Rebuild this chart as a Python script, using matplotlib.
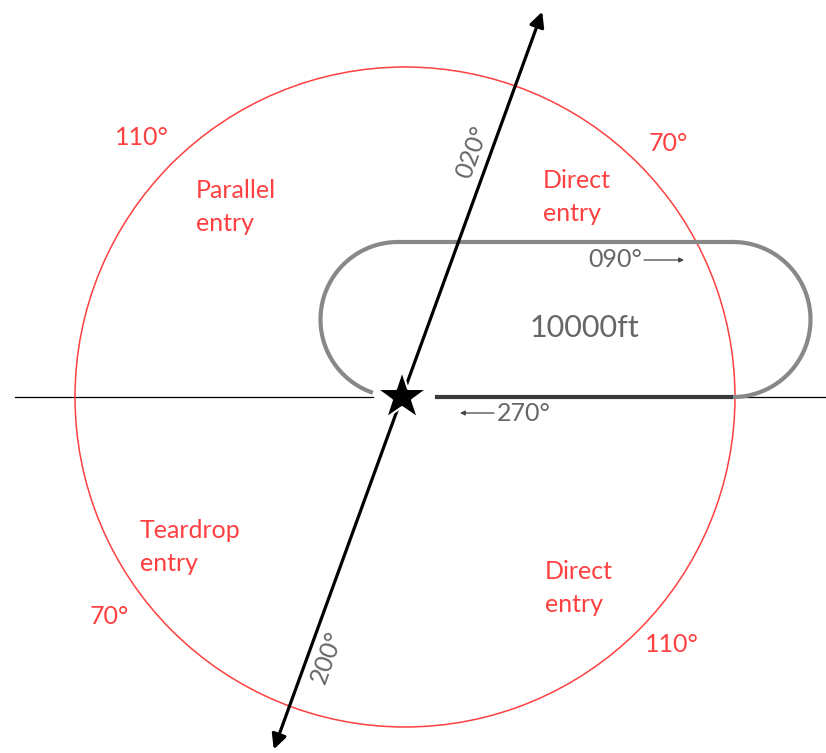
import numpy as np
import matplotlib.pyplot as plt
from matplotlib.patches import Circle

# holding pattern at a fix, inbound course 270, entry sectors split along 020/200
fix_xy = (402, 397)
circle_radius = 330
sector_bearing = 20  # 020 / 200 line
leg_top_y = 242
leg_left_x = 398
leg_right_x = 733
inbound_start_x = 435

sector_names = ["Parallel\nentry", "Direct\nentry", "Teardrop\nentry", "Direct\nentry"]
angle_labels = ["110°", "70°", "70°", "110°"]
course_labels = ["090°", "270°"]
bearing_labels = ["020°", "200°"]
altitude_label = "10000ft"

red = "#ff4040"
grey = "#888888"
txt_grey = "#666666"
plt.rcParams['font.family'] = ['Lato', 'DejaVu Sans']

fig = plt.figure(figsize=(8.26, 7.53), dpi=100)
ax = fig.add_axes([0, 0, 1, 1])
ax.set_xlim(0, 826)
ax.set_ylim(753, 0)
ax.set_aspect('equal')
ax.axis('off')

fx, fy = fix_xy
# reference horizontal line
ax.plot([15, 373], [fy, fy], color='black', lw=0.9, zorder=1)
ax.plot([inbound_start_x, 826], [fy, fy], color='black', lw=0.9, zorder=1)

# entry circle
ax.add_patch(Circle((fx + 3, fy), circle_radius, fill=False, ec=red, lw=1.1, zorder=2))

# racetrack
r = (fy - leg_top_y) / 2
cy = leg_top_y + r
t = np.radians(np.linspace(90, 251, 80))
ax.plot(leg_left_x + r * np.cos(t), cy - r * np.sin(t), color=grey, lw=3, zorder=3,
        solid_capstyle='butt')
ax.plot([leg_left_x, leg_right_x], [leg_top_y, leg_top_y], color=grey, lw=3, zorder=3)
t = np.radians(np.linspace(90, -90, 80))
ax.plot(leg_right_x + r * np.cos(t), cy - r * np.sin(t), color=grey, lw=3, zorder=3)
ax.plot([inbound_start_x, leg_right_x], [fy, fy], color='#3a3a3a', lw=3, zorder=4,
        solid_capstyle='butt')

# 020 / 200 bearing line
b = np.radians(sector_bearing)
top = (fx + 410 * np.sin(b), fy - 410 * np.cos(b))
bot = (fx - 375 * np.sin(b), fy + 375 * np.cos(b))
ax.annotate("", xy=top, xytext=bot,
            arrowprops=dict(arrowstyle='<|-|>', color='black', lw=2.3,
                            mutation_scale=22, shrinkA=0, shrinkB=0), zorder=5)

# fix star
ax.plot(fx, fy, marker='*', markersize=38, color='black', mec='white', mew=1.5, zorder=6)

# sector labels
fs = 18
kw = dict(color=red, fontsize=fs, ha='left', va='center', linespacing=1.5)
ax.text(196, 207, sector_names[0], **kw)
ax.text(543, 197, sector_names[1], **kw)
ax.text(140, 547, sector_names[2], **kw)
ax.text(545, 588, sector_names[3], **kw)

ax.text(142, 137, angle_labels[0], color=red, fontsize=fs, ha='center', va='center')
ax.text(668, 143, angle_labels[1], color=red, fontsize=fs, ha='center', va='center')
ax.text(109, 616, angle_labels[2], color=red, fontsize=fs, ha='center', va='center')
ax.text(672, 645, angle_labels[3], color=red, fontsize=fs, ha='center', va='center')

# courses
ax.text(642, 259, course_labels[0], color=txt_grey, fontsize=fs, ha='right', va='center')
ax.annotate("", xy=(684, 260), xytext=(644, 260),
            arrowprops=dict(arrowstyle='-|>', color='#444444', lw=0.9, mutation_scale=7,
                            shrinkA=0, shrinkB=0))
ax.text(497, 413, course_labels[1], color=txt_grey, fontsize=fs, ha='left', va='center')
ax.annotate("", xy=(460, 413), xytext=(494, 413),
            arrowprops=dict(arrowstyle='-|>', color='#444444', lw=0.9, mutation_scale=7,
                            shrinkA=0, shrinkB=0))

ax.text(584, 328, altitude_label, color=txt_grey, fontsize=22, ha='center', va='center')

ax.text(472, 152, bearing_labels[0], color=txt_grey, fontsize=fs, ha='center', va='center',
        rotation=90 - sector_bearing)
ax.text(327, 657, bearing_labels[1], color=txt_grey, fontsize=fs, ha='center', va='center',
        rotation=90 - sector_bearing)

fig.savefig('out.png', dpi=100)
